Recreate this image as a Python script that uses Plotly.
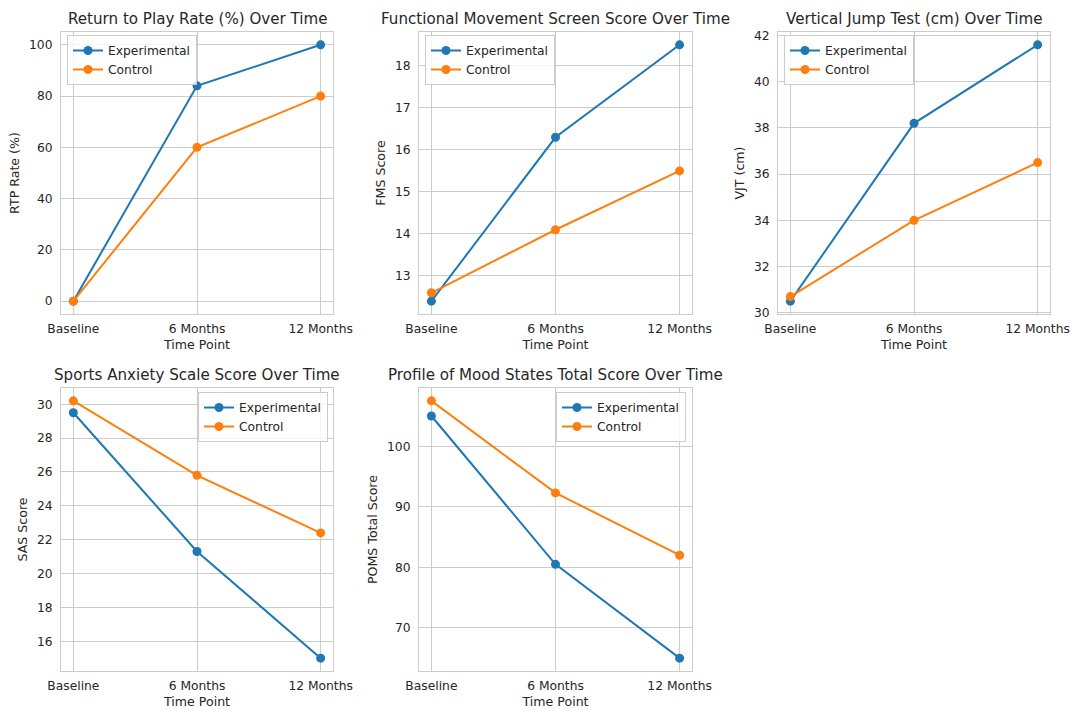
import plotly.graph_objects as go

time_points = ["Baseline", "6 Months", "12 Months"]
groups = ["Experimental", "Control"]

rtp_exp = [0, 84, 100]
rtp_ctrl = [0, 60, 80]
fms_exp = [12.4, 16.3, 18.5]
fms_ctrl = [12.6, 14.1, 15.5]
vjt_exp = [30.5, 38.2, 41.6]
vjt_ctrl = [30.7, 34.0, 36.5]
sas_exp = [29.5, 21.3, 15.0]
sas_ctrl = [30.2, 25.8, 22.4]
poms_exp = [105, 80.5, 65]
poms_ctrl = [107.5, 92.3, 82]

titles = ["Return to Play Rate (%) Over Time",
          "Functional Movement Screen Score Over Time",
          "Vertical Jump Test (cm) Over Time",
          "Sports Anxiety Scale Score Over Time",
          "Profile of Mood States Total Score Over Time"]
ylabels = ["RTP Rate (%)", "FMS Score", "VJT (cm)", "SAS Score", "POMS Total Score"]
ydticks = [20, 1, 2, 2, 10]
series = [(rtp_exp, rtp_ctrl), (fms_exp, fms_ctrl), (vjt_exp, vjt_ctrl),
          (sas_exp, sas_ctrl), (poms_exp, poms_ctrl)]

W, H = 1074, 711
# axes frames in pixels: (left, right, top, bottom)
frames = [(61, 333, 32, 314), (419, 692, 32, 314), (778, 1050, 32, 314),
          (61, 333, 388, 671), (419, 692, 388, 671)]
# legend anchor in pixels
legpos = [(67, 35, "left"), (425, 35, "left"), (784, 35, "left"),
          (328, 392, "right"), (686, 392, "right")]

colors = ["#1f77b4", "#ff7f0e"]
txt = "#262626"
grid = "#cccccc"
font = "DejaVu Sans"
fs = 12.3

fig = go.Figure()
layout = dict(width=W, height=H, margin=dict(l=0, r=0, t=0, b=0, autoexpand=False),
              paper_bgcolor="white", plot_bgcolor="white",
              font=dict(family=font, color=txt, size=fs), annotations=[])

for i, (title, ylab, (e, c)) in enumerate(zip(titles, ylabels, series)):
    n = i + 1
    xa = "x" if n == 1 else f"x{n}"
    ya = "y" if n == 1 else f"y{n}"
    lg = "legend" if n == 1 else f"legend{n}"
    for gname, vals, col in zip(groups, (e, c), colors):
        fig.add_trace(go.Scatter(x=time_points, y=vals, name=gname, mode="lines+markers",
                                 line=dict(color=col, width=2), marker=dict(color=col, size=9),
                                 xaxis=xa, yaxis=ya, legend=lg))
    l, r, t, b = frames[i]
    allv = list(e) + list(c)
    lo, hi = min(allv), max(allv)
    pad = (hi - lo) * 0.05
    ax_common = dict(showline=True, mirror=True, linecolor=grid, linewidth=1,
                     showgrid=True, gridcolor=grid, gridwidth=1, zeroline=False,
                     ticks="outside", tickcolor="rgba(0,0,0,0)",
                     tickfont=dict(size=fs, color=txt), automargin=False)
    layout["xaxis" if n == 1 else f"xaxis{n}"] = dict(
        domain=[l / W, r / W], anchor=ya, type="category", range=[-0.1, 2.1], ticklen=3,
        title=dict(text="Time Point", font=dict(size=12.6, color=txt), standoff=5),
        **ax_common)
    layout["yaxis" if n == 1 else f"yaxis{n}"] = dict(
        domain=[1 - b / H, 1 - t / H], anchor=xa, range=[lo - pad, hi + pad],
        dtick=ydticks[i], ticklen=5,
        title=dict(text=ylab, font=dict(size=12.6, color=txt), standoff=6),
        **ax_common)
    layout["annotations"].append(dict(
        text=title, x=(l + r) / 2 / W, y=1 - (t - 2) / H, xref="paper", yref="paper",
        xanchor="center", yanchor="bottom", showarrow=False,
        font=dict(size=15.1, color=txt, family=font)))
    lx, ly, anc = legpos[i]
    layout[lg] = dict(x=lx / W, y=1 - ly / H, xanchor=anc, yanchor="top",
                      xref="paper", yref="paper",
                      bgcolor="rgba(255,255,255,0.8)", bordercolor=grid, borderwidth=1,
                      font=dict(size=fs, color=txt), itemwidth=30,
                      tracegroupgap=0)

fig.update_layout(**layout)
fig.write_html("out.html", config={"displayModeBar": False},
               post_script="document.body.style.margin='0';document.body.style.overflow='hidden';")
